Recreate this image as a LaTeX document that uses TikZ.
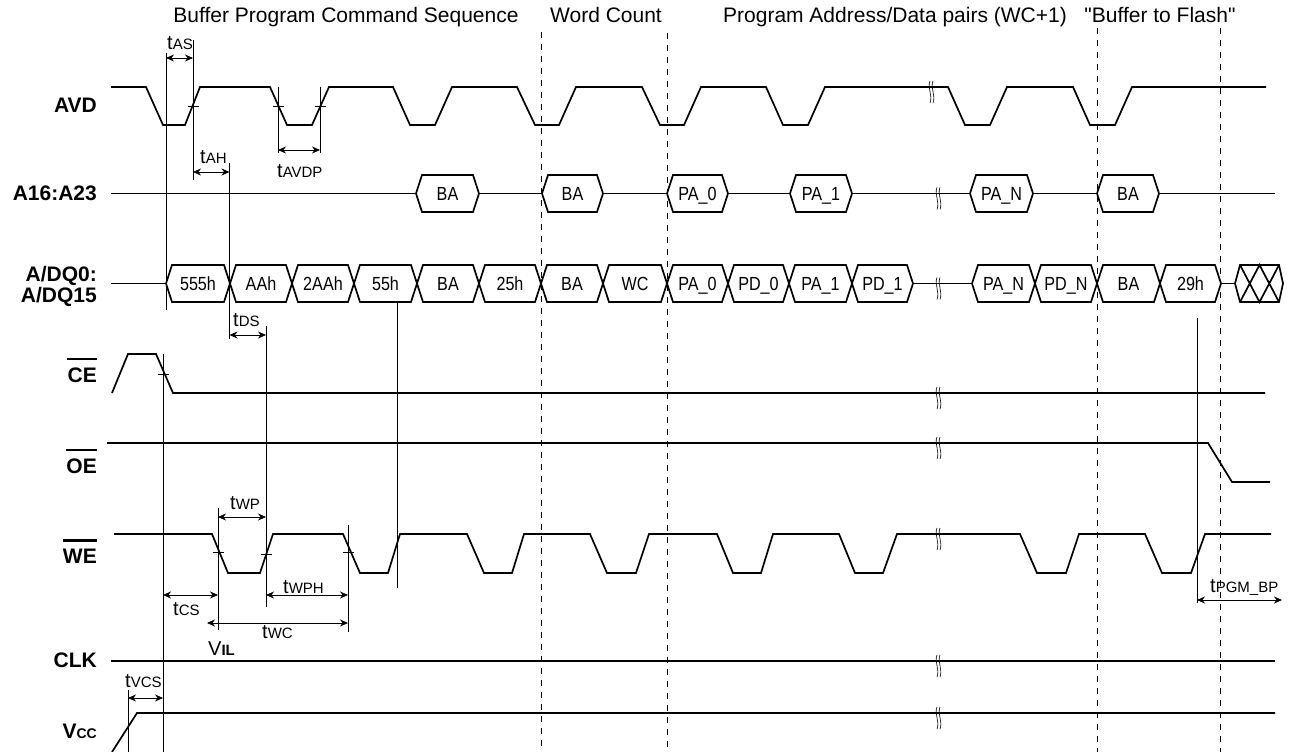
\documentclass[tikz,border=0pt]{standalone}
\usepackage{fontspec}
\setmainfont{Liberation Sans}
\newfontfamily\narrowfont[FakeStretch=0.85]{Liberation Sans}
\usetikzlibrary{arrows.meta}

\newcommand{\tsub}[1]{{\fontsize{20}{20}\selectfont t}{\fontsize{15}{15}\selectfont #1}}

\tikzset{
  sig/.style={line width=1.7pt},
  tim/.style={line width=0.8pt},
  dim/.style={line width=0.8pt, {Stealth[length=8pt,width=7pt]}-{Stealth[length=8pt,width=7pt]}},
  sect/.style={line width=1pt, dash pattern=on 6pt off 6pt},
  brk/.style={line width=0.6pt},
  siglab/.style={anchor=base east, inner sep=0pt, font=\fontsize{21}{21}\selectfont\bfseries},
  buslab/.style={anchor=base, inner sep=0pt, font=\fontsize{19}{19}\narrowfont},
  ttl/.style={anchor=base, inner sep=0pt, font=\fontsize{21}{21}\selectfont},
  tlab/.style={anchor=base west, inner sep=0pt}
}

\begin{document}
\begin{tikzpicture}[x=1pt,y=-1pt]

\useasboundingbox[fill=white] (0,0) rectangle (1291,752);

\node[ttl] (secbuf) at (346,23) {Buffer Program Command Sequence};
\node[ttl] (secwc) at (606,23) {Word Count};
\node[ttl] (secpair) at (895,23) {Program Address/Data pairs (WC+1)};
\node[ttl] (secflash) at (1160,23) {\textquotedbl Buffer to Flash\textquotedbl};

\node[siglab] (avd) at (97,113) {AVD};
\node[siglab] (addr) at (97,200) {A16:A23};
\node[siglab] (dq0) at (97,281) {A/DQ0:};
\node[siglab] (dq15) at (97,302) {A/DQ15};
\node[siglab] (ce) at (97,382) {CE};
\node[siglab] (oe) at (97,473) {OE};
\node[siglab] (we) at (97,563) {WE};
\node[siglab] (clk) at (97,667) {CLK};
\node[siglab] (vcc) at (97,738) {V{\fontsize{14}{14}\selectfont CC}};
\foreach \n in {ce,oe,we}
  \draw[line width=2.6pt] ([yshift=8pt]\n.north west) -- ([yshift=8pt]\n.north east);

\draw[sig] (111,87) -- (146,87) -- (163,125) -- (185,125) -- (200,87) -- (270,87) -- (287,125) -- (312,125) -- (329,87)
  -- (393,87) -- (410,125) -- (435,125) -- (452,87) -- (517,87) -- (535,125) -- (559,125) -- (576,87)
  -- (642,87) -- (660,125) -- (684,125) -- (701,87) -- (766,87) -- (783,125) -- (808,125) -- (825,87)
  -- (948,87) -- (965,125) -- (990,125) -- (1007,87) -- (1073,87) -- (1090,125) -- (1115,125) -- (1132,87) -- (1266,87);

\draw[sig] (111,193.5) -- (1275,193.5);
\foreach \a/\b/\t [count=\i] in {416/479/BA, 542/603/BA, 667/728/PA\_0, 790/852/PA\_1, 970/1033/PA\_N, 1097/1159/BA} {
  \draw[sig, fill=white] (\a,193.5) -- (\a+6,175) -- (\b-6,175) -- (\b,193.5) -- (\b-6,212) -- (\a+6,212) -- cycle;
  \node[buslab] (ad\i) at ({(\a+\b)/2},200) {\t};
}

\draw[sig] (111,283.5) -- (166,283.5) (913,283.5) -- (972,283.5) (1221,283.5) -- (1235,283.5);
\foreach \a/\b/\t [count=\i] in {166/230/555h, 230/292/AAh, 292/354/2AAh, 354/417/55h, 417/479/BA, 479/541/25h,
    541/603/BA, 603/667/WC, 667/728/PA\_0, 728/789/PD\_0, 789/852/PA\_1, 852/913/PD\_1,
    972/1035/PA\_N, 1035/1097/PD\_N, 1097/1160/BA, 1160/1221/29h} {
  \draw[sig] (\a,283.5) -- (\a+6,265) -- (\b-6,265) -- (\b,283.5) -- (\b-6,302) -- (\a+6,302) -- cycle;
  \node[buslab] (dq\i) at ({(\a+\b)/2},290) {\t};
}
\draw[sig] (1235,283.5) -- (1240,265) -- (1279,265) -- (1283,283.5) -- (1279,302) -- (1240,302) -- cycle;
\draw[sig] (1240,265) -- (1259.5,302) -- (1279,265) (1240,302) -- (1259.5,265) -- (1279,302);

\draw[sig] (112,393) -- (128,354) -- (156,354) -- (173,393) -- (1265,393);
\draw[sig] (107,443) -- (1208,443) -- (1232,482) -- (1270,482);
\draw[sig] (114,534) -- (212,534) -- (228,573) -- (260,573) -- (273,534) -- (343,534) -- (360,573) -- (388,573) -- (400,534)
  -- (467,534) -- (484,573) -- (512,573) -- (524,534) -- (590,534) -- (607,573) -- (636,573) -- (649,534)
  -- (717,534) -- (733,573) -- (761,573) -- (773,534) -- (839,534) -- (855,573) -- (883,573) -- (897,534)
  -- (1020,534) -- (1037,573) -- (1066,573) -- (1079,534) -- (1145,534) -- (1162,573) -- (1191,573) -- (1205,534) -- (1271,534);
\draw[sig] (111,661) -- (1275,661);
\draw[sig] (112,752) -- (137,713) -- (1275,713);

\foreach \x/\y in {930/87, 937/193.5, 937/283.5, 937/393, 937/443, 937/534, 937/661, 937/713}
  \draw[brk] (\x,\y-6) .. controls (\x-3,\y+1) and (\x+3,\y+8) .. (\x,\y+16)
    (\x+3,\y-6) .. controls (\x,\y+1) and (\x+6,\y+8) .. (\x+3,\y+16);

\foreach \x/\y in {193/106, 278/106, 320/106, 163/374, 218/552, 266/554, 348/552}
  \draw[tim] (\x-5.5,\y) -- (\x+5.5,\y);

\draw[tim] (166,53) -- (166,310);
\draw[tim] (193,40) -- (193,180);
\draw[tim] (229.5,163) -- (229.5,339);
\draw[tim] (278,87) -- (278,153);
\draw[tim] (320,87) -- (320,153);
\draw[tim] (266,326) -- (266,607);
\draw[tim] (397,303) -- (397,588);
\draw[tim] (163,354) -- (163,752);
\draw[tim] (218,508) -- (218,630);
\draw[tim] (348,525) -- (348,632);
\draw[tim] (128,690) -- (128,752);
\draw[tim] (1197,318) -- (1197,603);

\draw[dim] (166,58) -- (193,58);
\draw[dim] (193,172) -- (229.5,172);
\draw[dim] (278,150) -- (320,150);
\draw[dim] (229.5,335) -- (266,335);
\draw[dim] (218,517) -- (266,517);
\draw[dim] (163,595) -- (218,595);
\draw[dim] (266,595) -- (348,595);
\draw[dim] (207,623) -- (348,623);
\draw[dim] (128,698) -- (163,698);
\draw[dim] (1197,600) -- (1282,600);

\node[tlab] (tas) at (167,50) {\tsub{AS}};
\node[tlab] (tah) at (200,163) {\tsub{AH}};
\node[tlab] (tavdp) at (277,177) {\tsub{AVDP}};
\node[tlab] (tds) at (233,326) {\tsub{DS}};
\node[tlab] (twp) at (230,509) {\tsub{WP}};
\node[tlab] (twph) at (283,593) {\tsub{WPH}};
\node[tlab] (tcs) at (173,615) {\tsub{CS}};
\node[tlab] (twc) at (262,638) {\tsub{WC}};
\node[tlab] (vil) at (208,655) {{\fontsize{20}{20}\selectfont V}{\fontsize{15}{15}\selectfont\bfseries IL}};
\node[tlab] (tvcs) at (125,687) {\tsub{VCS}};
\node[tlab] (tpgm) at (1210,592) {\tsub{PGM\_BP}};

\foreach \x/\y in {541/32, 667/33, 1097/28, 1220/28}
  \draw[sect] (\x,\y) -- (\x,752);

\end{tikzpicture}
\end{document}
